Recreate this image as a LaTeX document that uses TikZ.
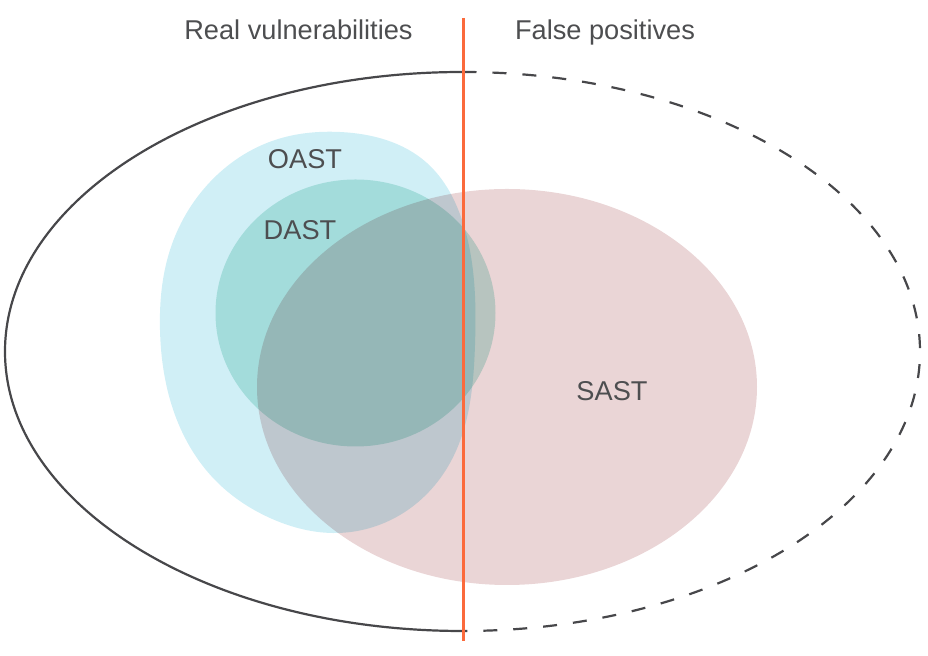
\documentclass[tikz,border=0pt]{standalone}
\usepackage{fontspec}
\setmainfont{Liberation Sans}
\usepackage{tikz}
\usetikzlibrary{hobby}
\definecolor{oastcol}{HTML}{D0EFF6}
\definecolor{dastcol}{HTML}{C8EBE4}
\definecolor{sastcol}{HTML}{EAD5D6}
\definecolor{rimcol}{HTML}{47474A}
\definecolor{splitcol}{HTML}{FB6A3C}
\definecolor{labelcol}{HTML}{4D4E50}
\tikzset{
  lbl/.style={text=labelcol, font=\fontsize{13.6}{16}\selectfont, anchor=base, inner sep=0pt},
  rim/.style={draw=rimcol, line width=1.1pt}}

\begin{document}
\begin{tikzpicture}[x=0.5pt, y=-0.5pt]
\useasboundingbox (0,0) rectangle (928,656);
\begin{scope}[blend group=multiply]
\fill[oastcol, use Hobby shortcut, closed=true] (340,132) .. (427,163) .. (463,223) .. (475,345) .. (450,463) .. (400,515) .. (337,533) .. (270,518) .. (215,480) .. (175,415) .. (160,330) .. (170,250) .. (210,182) .. (275,140);
\fill[dastcol] (355.5,313) ellipse[x radius=140, y radius=133.5];
\fill[sastcol] (507,387) ellipse[x radius=250, y radius=198];
\end{scope}
\draw[rim] (462.5,72) arc[start angle=-90, end angle=-270, x radius=457.5, y radius=279.5];
\draw[rim, dash pattern=on 7pt off 8pt] (462.5,72) arc[start angle=-90, end angle=90, x radius=457.5, y radius=279.5];
\draw[splitcol, line width=1.5pt] (463,18) -- (463,641);
\node[lbl] (real) at (298.5,40) {Real vulnerabilities};
\node[lbl] (false) at (605,40) {False positives};
\node[lbl] (oast) at (305,169) {OAST};
\node[lbl] (dast) at (300,240) {DAST};
\node[lbl] (sast) at (612,401) {SAST};
\end{tikzpicture}
\end{document}
